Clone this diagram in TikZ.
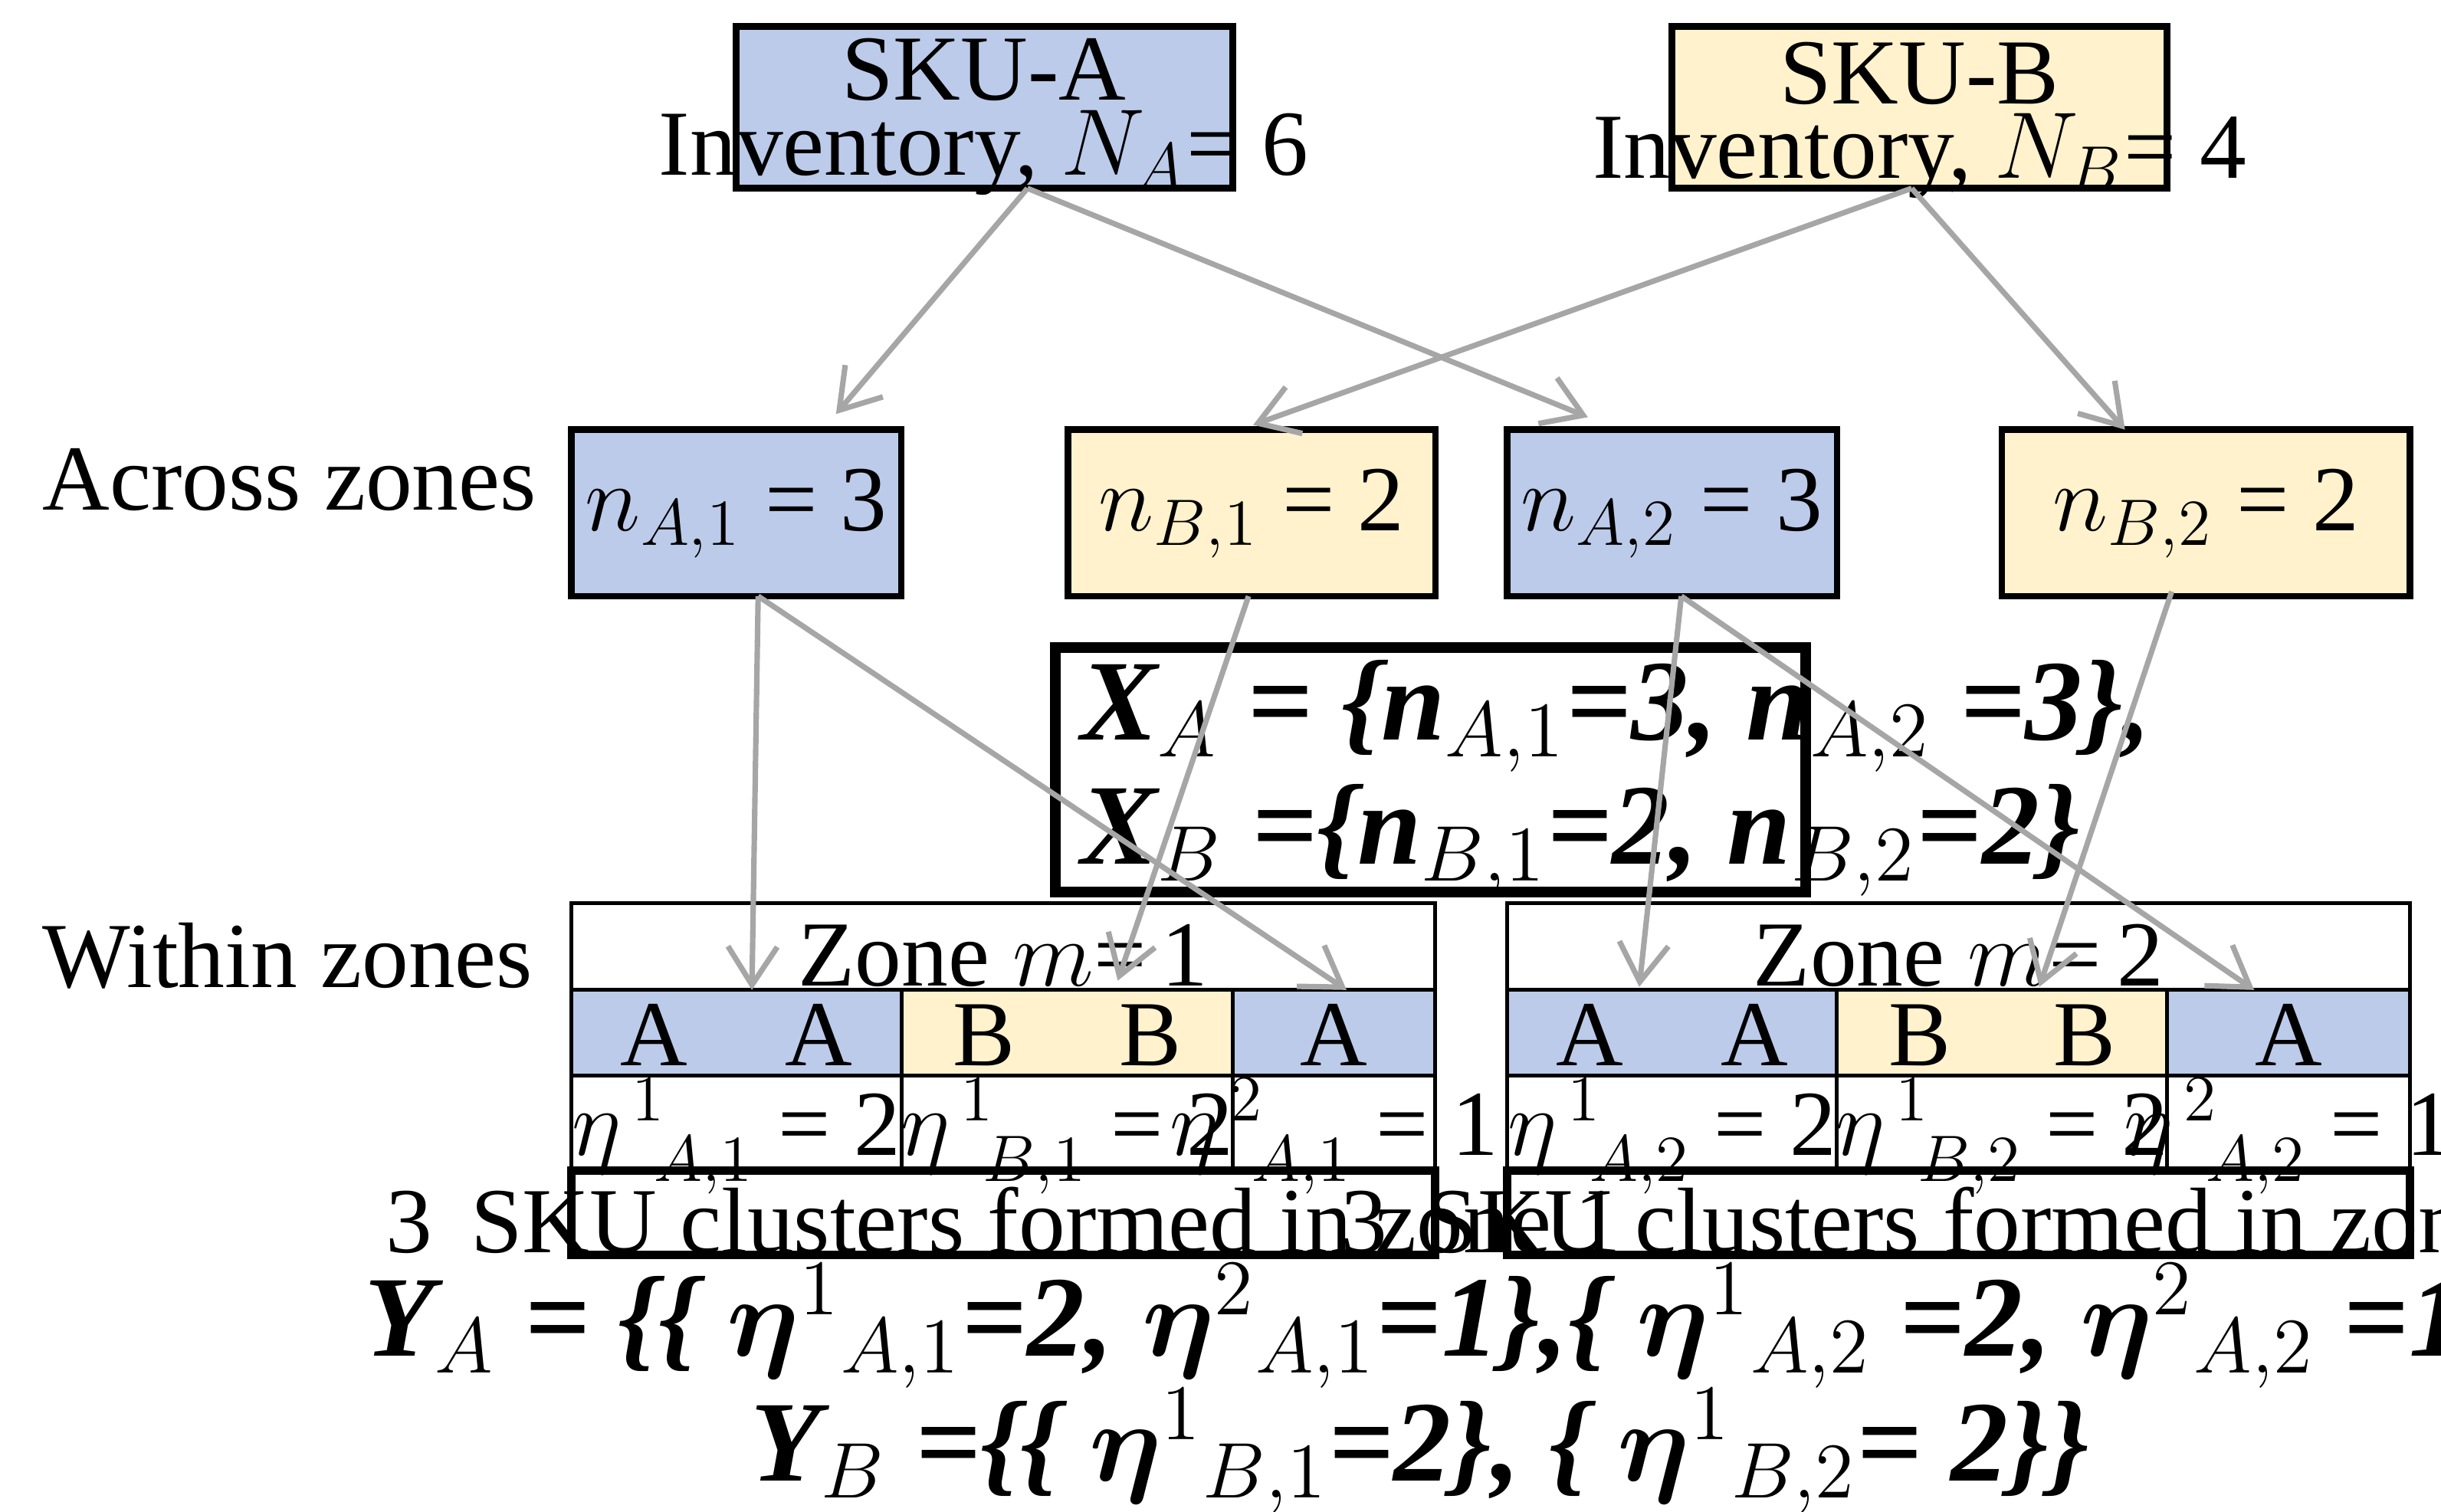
\documentclass[tikz,border=0pt]{standalone}
\usepackage{amsmath,bm}
\usepackage{fontspec}
\setmainfont{Liberation Serif}
\usetikzlibrary{arrows.meta}
\definecolor{bl}{HTML}{BCCBEA}
\definecolor{yl}{HTML}{FFF2CC}
\definecolor{ar}{HTML}{A6A6A6}
\newcommand{\myeta}{$\bm{\eta}$}
\begin{document}
\begin{tikzpicture}[x=0.01cm,y=-0.01cm,
  box/.style={draw,line width=1.2pt,inner sep=0},
  cell/.style={draw,line width=0.7pt},
  arr/.style={draw=ar,line width=1pt,-{Straight Barb[length=7pt,width=9pt]}},
  tx/.style={font=\fontsize{17}{19}\selectfont},
  big/.style={font=\fontsize{21}{24}\selectfont\bfseries\itshape}]
\useasboundingbox (0,0) rectangle (1568,971);
\draw[box,fill=bl] (473,17) rectangle (792,121);
\node[tx] (skua) at (632,45) {SKU-A};
\node[tx] at (632,98) {Inventory, $N_A$= 6};
\draw[box,fill=yl] (1074,17) rectangle (1392,121);
\node[tx] (skub) at (1233,47) {SKU-B};
\node[tx] at (1233,100) {Inventory, $N_B$= 4};
\draw[box,fill=bl] (367,276) rectangle (579,383); \node[tx] (na1) at (473,330) {$n_{A,1}$ = 3};
\draw[box,fill=yl] (686,276) rectangle (922,383); \node[tx] (nb1) at (804,330) {$n_{B,1}$ = 2};
\draw[box,fill=bl] (968,276) rectangle (1180,383); \node[tx] (na2) at (1074,330) {$n_{A,2}$ = 3};
\draw[box,fill=yl] (1286,276) rectangle (1548,383); \node[tx] (nb2) at (1417,330) {$n_{B,2}$ = 2};
\node[tx,anchor=west] (across) at (15,308) {Across zones};
\node[tx,anchor=west] (within) at (15,614) {Within zones};
\draw[line width=2pt] (678,416) rectangle (1160,573);
\node[big,anchor=west] (xa) at (682,460) {X$_A$ = \{n$_{A,1}$=3, n$_{A,2}$ =3\},};
\node[big,anchor=west] (xb) at (682,540) {X$_B$ =\{n$_{B,1}$=2, n$_{B,2}$=2\}};
\foreach \ox/\z/\wa/\wb/\wc in {367/1/212/213/130, 968/2/212/212/156}{
  \pgfmathsetmacro{\xa}{\ox+\wa}\pgfmathsetmacro{\xb}{\xa+\wb}\pgfmathsetmacro{\xc}{\xb+\wc}
  \draw[cell] (\ox,580) rectangle (\xc,691);
  \draw[cell,fill=bl] (\ox,636) rectangle (\xa,691);
  \draw[cell,fill=yl] (\xa,636) rectangle (\xb,691);
  \draw[cell,fill=bl] (\xb,636) rectangle (\xc,691);
  \draw[cell] (\ox,691) rectangle (\xa,752) (\xa,691) rectangle (\xb,752) (\xb,691) rectangle (\xc,752);
  \draw[line width=1.5pt] (\ox,752) rectangle (\xc,806);
  \node[tx] at ({(\ox+\xc)/2},614) {Zone $m$=\,\z};
  \node[tx] at (\ox+53,665) {A}; \node[tx] at (\xa-53,665) {A};
  \node[tx] at (\xa+53,665) {B}; \node[tx] at (\xb-53,665) {B};
  \node[tx] at ({(\xb+\xc)/2},665) {A};
  \node[tx] at ({(\ox+\xa)/2},730) {$\eta^{\,1}_{\;\;A,\z}$ = 2};
  \node[tx] at ({(\xa+\xb)/2},730) {$\eta^{\,1}_{\;\;B,\z}$ = 2};
  \node[tx] at ({(\xb+\xc)/2},730) {$\eta^{\,2}_{\;\;A,\z}$ = 1};
  \node[tx] at ({(\ox+\xc)/2},784) {3\,\ SKU clusters formed in zone \z};
}
\coordinate (a0) at (660,121); \coordinate (b0) at (1228,121);
\coordinate (a1) at (537,266); \coordinate (a2) at (1020,268);
\coordinate (b1) at (805,273); \coordinate (b2) at (1365,276);
\coordinate (c1) at (487,383); \coordinate (c2) at (802,383);
\coordinate (c3) at (1080,383); \coordinate (c4) at (1395,380);
\coordinate (d1) at (483,636); \coordinate (d2) at (865,636);
\coordinate (d3) at (718,630); \coordinate (d4) at (1053,634);
\coordinate (d5) at (1448,636); \coordinate (d6) at (1310,634);
\draw[arr] (a0)--(a1); \draw[arr] (a0)--(a2);
\draw[arr] (b0)--(b1); \draw[arr] (b0)--(b2);
\draw[arr] (c1)--(d1); \draw[arr] (c1)--(d2); \draw[arr] (c2)--(d3);
\draw[arr] (c3)--(d4); \draw[arr] (c3)--(d5); \draw[arr] (c4)--(d6);
\node[big] (ya) at (935,852) {Y$_A$ = \{\{ \myeta $^{1}$$_{A,1}$=2, \myeta $^{2}$$_{A,1}$=1\},\{ \myeta $^{1}$$_{A,2}$ =2, \myeta $^{2}$$_{A,2}$ =1\}\}};
\node[big] (yb) at (912,932) {Y$_B$ =\{\{ \myeta $^{1}$$_{B,1}$=2\}, \{ \myeta $^{1}$$_{B,2}$= 2\}\}};
\end{tikzpicture}
\end{document}
